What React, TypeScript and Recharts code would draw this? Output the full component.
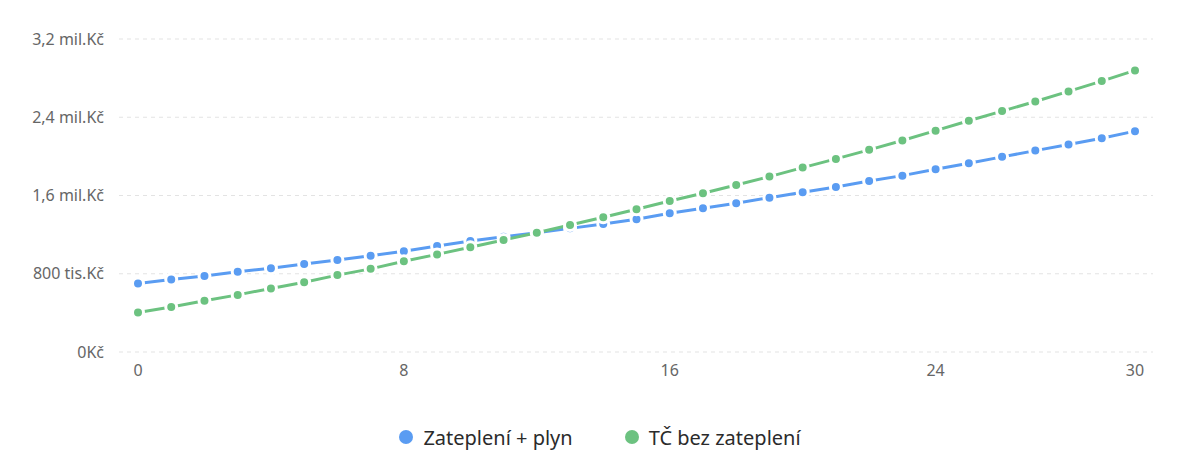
import { LineChart, Line, XAxis, YAxis, CartesianGrid, Legend } from "recharts";

// years 0..30
const years = [
  0, 1, 2, 3, 4, 5, 6, 7, 8, 9, 10, 11, 12, 13, 14, 15, 16, 17, 18, 19, 20, 21, 22, 23, 24, 25, 26, 27,
  28, 29, 30,
];

// cumulative cost, Kč
const zatepleniPlyn = [
  701000, 742000, 777000, 820000, 856000, 899000, 940000, 984000, 1031000, 1083000, 1134000, 1178000,
  1220000, 1264000, 1308000, 1357000, 1418000, 1469000, 1520000, 1578000, 1633000, 1687000, 1749000,
  1803000, 1869000, 1930000, 1995000, 2059000, 2121000, 2186000, 2258000,
];

const tcBezZatepleni = [
  404000, 461000, 523000, 584000, 650000, 714000, 786000, 850000, 927000, 998000, 1070000, 1145000,
  1219000, 1298000, 1377000, 1459000, 1544000, 1623000, 1708000, 1793000, 1885000, 1974000, 2067000,
  2162000, 2263000, 2364000, 2463000, 2561000, 2664000, 2770000, 2879000,
];

const xTicks = [0, 8, 16, 24, 30];
const yTicks = [0, 800000, 1600000, 2400000, 3200000];
const yTickLabels = ["0Kč", "800 tis.Kč", "1,6 mil.Kč", "2,4 mil.Kč", "3,2 mil.Kč"];

const BLUE = "#5a9cf2";
const GREEN = "#6cc280";

const series = [
  { key: "a", name: "Zateplení + plyn", color: BLUE },
  { key: "b", name: "TČ bez zateplení", color: GREEN },
];

const chartData = years.map((y, i) => ({
  year: y,
  a: zatepleniPlyn[i],
  b: tcBezZatepleni[i],
}));

function formatY(v: number) {
  const i = yTicks.indexOf(v);
  return i >= 0 ? yTickLabels[i] : String(v);
}

function LegendContent() {
  return (
    <div style={{ display: "flex", justifyContent: "center", alignItems: "center", gap: 52, height: 24 }}>
      {series.map((s) => (
        <div key={s.key} style={{ display: "flex", alignItems: "center", gap: 10 }}>
          <span
            style={{ width: 14, height: 14, borderRadius: "50%", background: s.color, display: "inline-block" }}
          />
          <span style={{ fontSize: 20, color: "#2b2b2b" }}>{s.name}</span>
        </div>
      ))}
    </div>
  );
}

export default function App() {
  return (
    <div
      style={{
        position: "absolute",
        left: 0,
        top: 0,
        width: 1200,
        height: 467,
        background: "#ffffff",
        fontFamily: "'Noto Sans', sans-serif",
      }}
    >
      <LineChart width={1200} height={467} data={chartData} margin={{ top: 39, right: 47, left: 0, bottom: 61 }}>
        <CartesianGrid stroke="#e3e3e3" strokeDasharray="4 4" vertical={false} />
        <XAxis
          dataKey="year"
          type="number"
          domain={[0, 30]}
          ticks={xTicks}
          padding={{ left: 19, right: 18 }}
          axisLine={false}
          tickLine={false}
          tickMargin={7}
          height={30}
          tick={{ fill: "#666", fontSize: 16 }}
        />
        <YAxis
          domain={[0, 3200000]}
          ticks={yTicks}
          tickFormatter={formatY}
          axisLine={false}
          tickLine={false}
          tickMargin={9}
          width={119}
          tick={{ fill: "#666", fontSize: 16 }}
        />
        <Legend
          verticalAlign="bottom"
          content={LegendContent}
          wrapperStyle={{ top: 425, left: 0, width: 1200, bottom: "auto" }}
        />
        {series.map((s) => (
          <Line
            key={s.key}
            type="linear"
            dataKey={s.key}
            name={s.name}
            stroke={s.color}
            strokeWidth={3}
            dot={{ r: 5.5, fill: s.color, stroke: "#ffffff", strokeWidth: 3 }}
            activeDot={false}
            isAnimationActive={false}
          />
        ))}
      </LineChart>
    </div>
  );
}
